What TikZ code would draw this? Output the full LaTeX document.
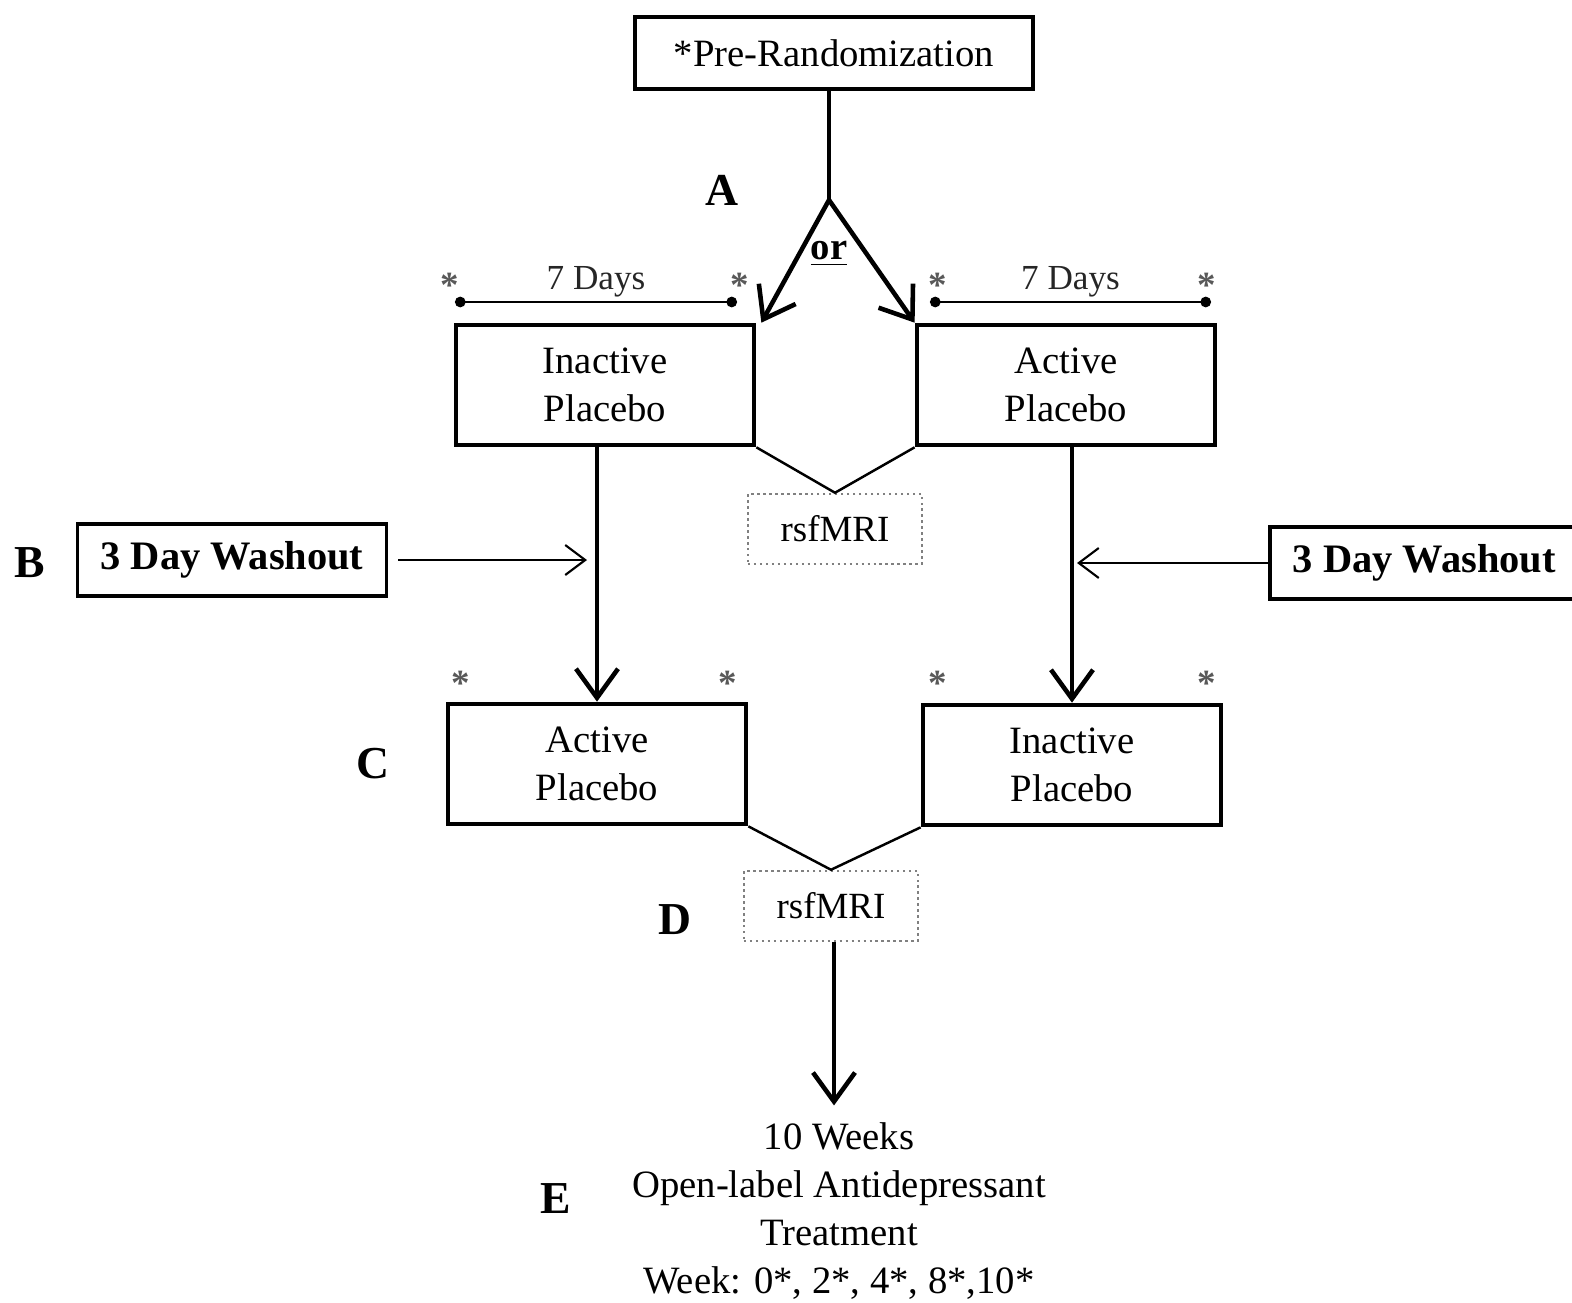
\documentclass[tikz,border=0pt]{standalone}
\usepackage{fontspec}
\setmainfont{Liberation Serif}
\usetikzlibrary{arrows.meta}

\tikzstyle{phase}=[draw,line width=1.3pt,minimum width=2.98cm,minimum height=1.2cm,inner sep=0pt,align=center,font=\fontsize{11}{13.7}\selectfont]
\tikzstyle{washout}=[draw,line width=1pt,minimum width=3.09cm,minimum height=0.72cm,inner sep=0pt,font=\fontsize{11.5}{13}\selectfont\bfseries]
\tikzstyle{scan}=[draw=black!50,densely dotted,line width=0.7pt,minimum width=1.74cm,minimum height=0.7cm,inner sep=0pt,font=\fontsize{10.5}{12}\selectfont]
\tikzstyle{letter}=[font=\fontsize{13}{15}\selectfont\bfseries]
\tikzstyle{timepoint}=[text=black!65,font=\fontsize{10.5}{12}\selectfont\bfseries]
\tikzstyle{main edge}=[draw,line width=1.3pt,-{Straight Barb[length=2.9mm,width=4.2mm]}]
\tikzstyle{thin edge}=[draw,line width=0.6pt,-{Straight Barb[length=2mm,width=3mm]}]
\tikzstyle{scan link}=[draw,line width=0.7pt]
\tikzstyle{span}=[draw,line width=0.8pt,{Circle[length=3pt]}-{Circle[length=3pt]}]

\begin{document}
\begin{tikzpicture}[x=0.01cm,y=-0.01cm]
\useasboundingbox (0,0) rectangle (1572,1303);

\node[draw,line width=1.3pt,minimum width=3.98cm,minimum height=0.72cm,inner sep=0pt,
      font=\fontsize{11}{13}\selectfont] (pre) at (834,53) {*Pre-Randomization};

% treatment periods
\foreach \pos/\name/\txt in {{(605,385)/ip1/Inactive}, {(1066,385)/ap1/Active},
                             {(597,764)/ap2/Active}, {(1072,765)/ip2/Inactive}}{
  \node[phase] (\name) at \pos {\txt\\Placebo};
}
\node[washout] (wo1) at (232,560) {3 Day Washout};
\node[washout,anchor=west] (wo2) at (1268,563) {3 Day Washout};
\node[scan] (scan1) at (835,529) {rsfMRI};
\node[scan] (scan2) at (831,906) {rsfMRI};
\node[align=center,font=\fontsize{11}{13.6}\selectfont] (treat) at (839,1211)
  {10 Weeks\\Open-label Antidepressant\\Treatment\\Week: 0*, 2*, 4*, 8*,10*};

\foreach \pos/\name in {{(722,190)/A}, {(30,563)/B}, {(373,764)/C},
                        {(675,920)/D}, {(556,1199)/E}}{
  \node[letter] (lbl\name) at \pos {\name};
}

% 7 day spans and assessment points
\foreach \a/\b/\n in {455/737/1, 930/1211/2}{
  \coordinate (s\n) at (\a,302);
  \coordinate (e\n) at (\b,302);
  \path[span] (s\n) -- node[above=1pt,inner sep=0pt,font=\fontsize{10}{12}\selectfont,text=black!85] (days\n) {7 Days} (e\n);
}
\foreach \pos/\name in {{(450,285)/t1}, {(740,285)/t2}, {(938,285)/t3}, {(1207,285)/t4},
                        {(461,683)/t5}, {(728,683)/t6}, {(938,683)/t7}, {(1207,683)/t8}}{
  \node[timepoint] (\name) at \pos {*};
}

% randomization
\coordinate (split) at (829,200);
\draw[line width=1.3pt] (pre.south -| split) -- (split);
\path[main edge] (split) -- ([xshift=0.05cm]ip1.north east);
\path[main edge] (split) -- (ap1.north west);
\node[font=\fontsize{11}{13}\selectfont\bfseries] (or) at (829,254) {\underline{or}};

% scans after each period
\path[scan link] (ip1.south east) -- (scan1.north) -- (ap1.south west);
\path[scan link] (ap2.south east) -- (scan2.north) -- (ip2.south west);

% crossover
\path[main edge] (ip1.south -| ap2.north) -- (ap2.north);
\path[main edge] (ap1.south -| ip2.north) -- (ip2.north);
\coordinate (inl) at (587,560);
\coordinate (inr) at (1077,563);
\path[thin edge] ([xshift=0.1cm]wo1.east) -- (inl);
\path[thin edge] (wo2.west) -- (inr);

% open label phase
\coordinate (drop) at (834,0);
\path[main edge] (scan2.south -| drop) -- ([yshift=0.05cm]treat.north -| drop);
\end{tikzpicture}
\end{document}
